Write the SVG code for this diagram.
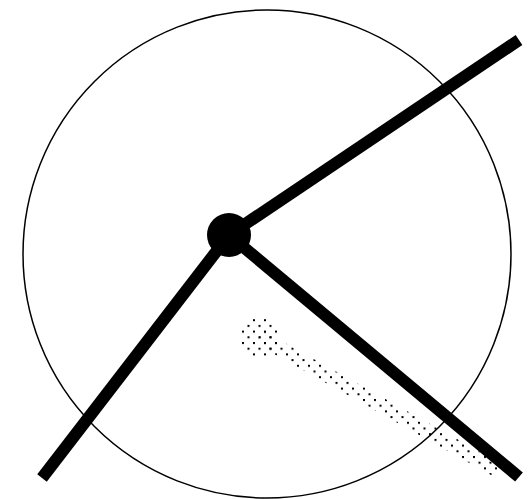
<svg xmlns="http://www.w3.org/2000/svg" width="530" height="499" viewBox="0 0 530 499">
  <style>
    .arm { stroke: #000; stroke-width: 12; stroke-linecap: butt; fill: none; }
    .ring { stroke: #000; stroke-width: 1.5; fill: none; }
  </style>
  <defs>
    <pattern id="dots" width="11" height="11.4" patternUnits="userSpaceOnUse">
      <rect x="0" y="0" width="2" height="2" fill="#000"/>
      <rect x="5.5" y="5.7" width="2" height="2" fill="#000"/>
    </pattern>
  </defs>
  <rect width="530" height="499" fill="#fff"/>
  <g id="circle">
    <circle class="ring" cx="267" cy="254" r="244"/>
  </g>
  <g id="shadow">
    <circle cx="259" cy="337" r="20" fill="url(#dots)"/>
    <line x1="259" y1="337" x2="499" y2="471" stroke="url(#dots)" stroke-width="15"/>
  </g>
  <g id="connectors">
    <line class="arm" x1="229" y1="235" x2="519" y2="40"/>
    <line class="arm" x1="229" y1="235" x2="42" y2="478"/>
    <line class="arm" x1="229" y1="235" x2="519" y2="477"/>
  </g>
  <g id="hub">
    <circle cx="229" cy="235" r="22" fill="#000"/>
  </g>
</svg>
